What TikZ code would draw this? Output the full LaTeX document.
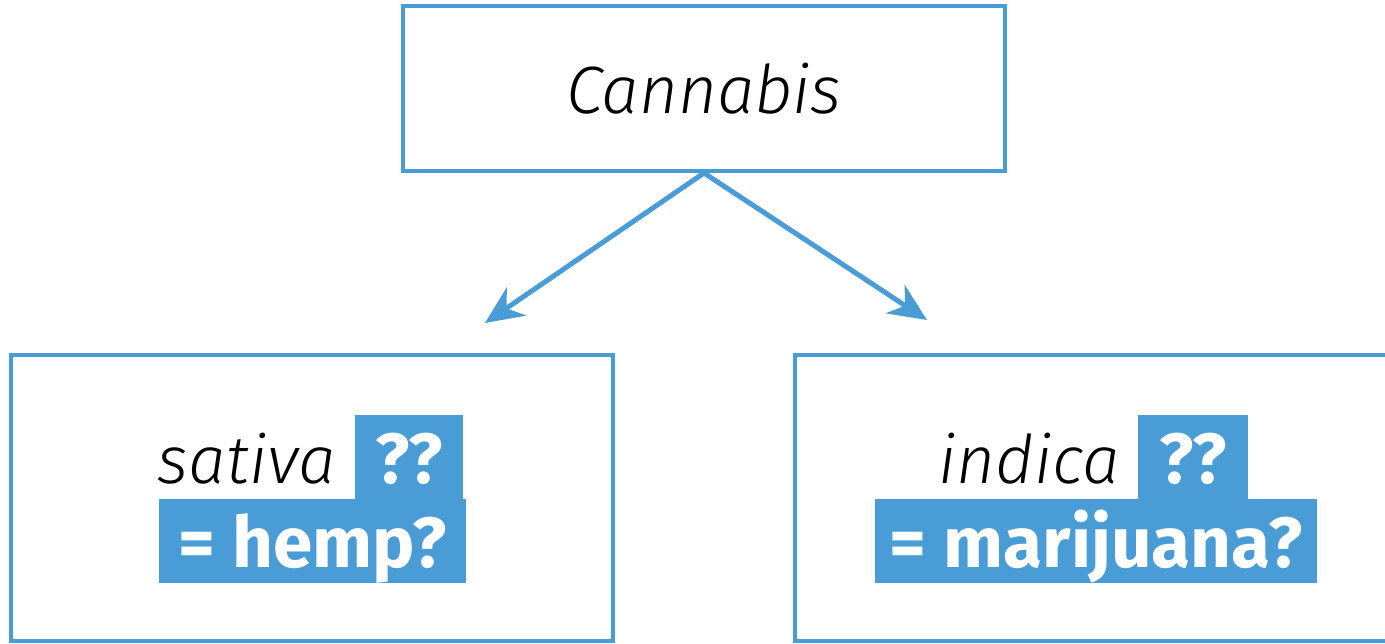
\documentclass[tikz,border=0pt]{standalone}
\usepackage{fontspec}
\setmainfont{Fira Sans}
\newfontfamily\lightit{Fira Sans Light Italic}
\newfontfamily\boldf{Fira Sans Bold}
\usetikzlibrary{arrows.meta}
\definecolor{cblue}{RGB}{74,156,214}
\tikzset{
  frame/.style={draw=cblue, line width=4pt, inner sep=0pt},
  hl/.style={fill=cblue, text=white, inner sep=0pt, text height=68pt, text depth=16pt, font=\boldf\fontsize{71}{84}\selectfont},
  lbl/.style={inner sep=0pt, font=\lightit\fontsize{67}{84}\selectfont},
  arr/.style={draw=cblue, line width=5pt, -{Stealth[length=38pt, width=34pt, inset=12pt]}}
}
\begin{document}
\begin{tikzpicture}[x=1pt, y=-1pt]
\useasboundingbox (0,0) rectangle (1385,643);
\clip (0,0) rectangle (1385,643);
% frames
\node[frame, minimum width=602pt, minimum height=165pt, font=\lightit\fontsize{67}{84}\selectfont] (top) at (704,88.5) {Cannabis};
\node[frame, minimum width=602pt, minimum height=286pt] (left) at (312,498) {};
\node[frame, minimum width=610pt, minimum height=286pt] (right) at (1100,498) {};
% left contents
\node[hl, minimum width=108pt, anchor=base west] (lq) at (355,483) {??};
\node[lbl, anchor=base east] (sativa) at (336,483) {sativa};
\node[hl, minimum width=307pt, anchor=base west] (hemp) at (159,567) {= hemp?};
% right contents
\node[hl, minimum width=110pt, anchor=base west] (rq) at (1138,483) {??};
\node[lbl, anchor=base east] (indica) at (1120,483) {indica};
\node[hl, minimum width=442pt, anchor=base west] (mar) at (875,567) {= marijuana?};
% arrows
\coordinate (lt) at (485,323);
\coordinate (rt) at (927,320);
\draw[arr] (top.south) -- (lt);
\draw[arr] (top.south) -- (rt);
\end{tikzpicture}
\end{document}
